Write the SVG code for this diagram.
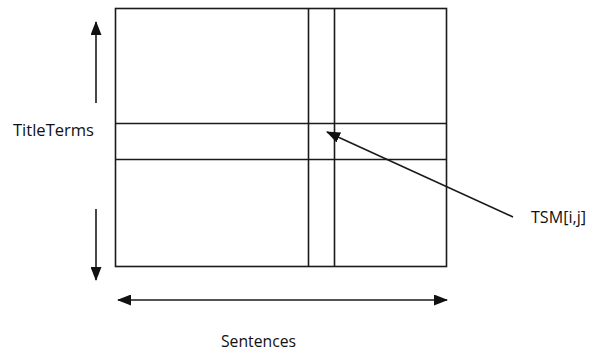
<svg xmlns="http://www.w3.org/2000/svg" width="592" height="356" viewBox="0 0 592 356">
<style>
.ln{stroke:#1a1a1a;stroke-width:1.6;fill:none}
.ar{stroke:#1a1a1a;stroke-width:1.6;fill:none}
.t{font-family:"Open Sans","DejaVu Sans",sans-serif;font-size:16px;fill:#111}
</style>
<defs>
<marker id="ah2" viewBox="0 0 14 11" refX="13" refY="5.5" markerWidth="14" markerHeight="11" markerUnits="userSpaceOnUse" orient="auto-start-reverse">
<path d="M0,0 L14,5.5 L0,11 z" fill="#111"/>
</marker>
</defs>
<g id="matrix">
<rect class="ln" x="115.5" y="8.5" width="331" height="258"/>
<line class="ln" x1="115" y1="123.5" x2="446" y2="123.5"/>
<line class="ln" x1="115" y1="159.5" x2="446" y2="159.5"/>
<line class="ln" x1="308.5" y1="8" x2="308.5" y2="266"/>
<line class="ln" x1="334.5" y1="8" x2="334.5" y2="266"/>
</g>
<g id="connectors">
<line class="ar" x1="96" y1="103" x2="96" y2="22" marker-end="url(#ah2)"/>
<line class="ar" x1="96" y1="209" x2="96" y2="280" marker-end="url(#ah2)"/>
<line class="ar" x1="118" y1="300" x2="447" y2="300" marker-start="url(#ah2)" marker-end="url(#ah2)"/>
<line class="ar" x1="513" y1="217" x2="327" y2="132" marker-end="url(#ah2)"/>
</g>
<g id="labels">
<text class="t" x="13" y="136" textLength="81" lengthAdjust="spacingAndGlyphs">TitleTerms</text>
<text class="t" x="531" y="223" textLength="55" lengthAdjust="spacingAndGlyphs">TSM[i,j]</text>
<text class="t" x="221" y="347" textLength="75" lengthAdjust="spacingAndGlyphs">Sentences</text>
</g>
</svg>
